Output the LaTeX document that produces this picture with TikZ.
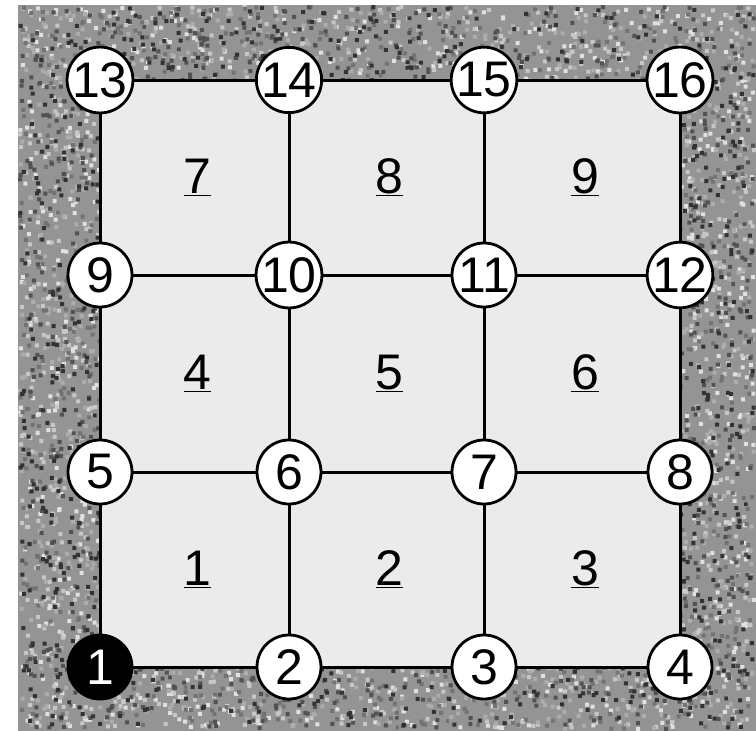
\documentclass[tikz,border=0pt]{standalone}
\usepackage{fontspec}
\setmainfont{Liberation Sans}
\usetikzlibrary{positioning,calc}
\tikzset{
  vtx/.style={circle,draw,line width=2.8pt,fill=white,minimum size=64pt,inner sep=0pt,font=\fontsize{50}{60}\selectfont},
  start/.style={vtx,fill=black,text=white},
  edge/.style={line width=3pt},
  cell/.style={inner sep=0pt,font=\fontsize{50}{60}\selectfont}
}
\begin{document}
\begin{tikzpicture}[x=1pt,y=-1pt]
    \useasboundingbox (0,0) rectangle (756,731);

    % Granite backdrop
    \fill[black!42] (18,5) rectangle (756,731);
    \pgfmathsetseed{42}
    \foreach \sh in {12,22,32,55,68,80}
      \fill[black!\sh] foreach \i in {1,...,1800}{
        ({18+734*rnd},{5+722*rnd}) rectangle ++(4,4)};

    % Mesh area
    \fill[black!8] (100,80) rectangle (680,667);

    % Grid points
    \foreach \y [count=\r from 0] in {667,472,275,80}
      \foreach \x [count=\c from 1] in {100,289,484,680}{
        \pgfmathtruncatemacro{\k}{4*\r+\c}
        \ifnum\k=1 \def\sty{start}\else\def\sty{vtx}\fi
        \node[\sty] (n\k) at (\x,\y) {\k};
      }

    % Element edges
    \foreach \a/\b in {1/2,2/3,3/4,5/6,6/7,7/8,9/10,10/11,11/12,13/14,14/15,15/16,
                       1/5,5/9,9/13,2/6,6/10,10/14,3/7,7/11,11/15,4/8,8/12,12/16}
      \draw[edge] (n\a) -- (n\b);

    % Element numbers
    \foreach \e/\p/\q in {1/1/6,2/2/7,3/3/8,4/5/10,5/6/11,6/7/12,7/9/14,8/10/15,9/11/16}
      \node[cell] (c\e) at ($(n\p)!0.5!(n\q)+(3,0)$) {\underline{\e}};

\end{tikzpicture}
\end{document}
